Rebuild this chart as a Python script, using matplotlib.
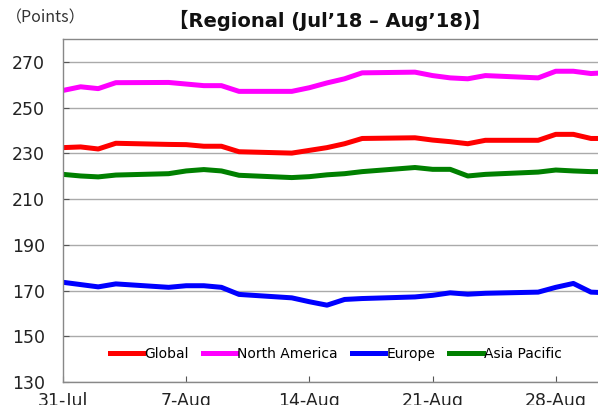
import matplotlib
matplotlib.use("Agg")
import matplotlib.pyplot as plt
import pandas as pd

dates = pd.to_datetime([
    "2018-07-31", "2018-08-01", "2018-08-02", "2018-08-03",
    "2018-08-06", "2018-08-07", "2018-08-08", "2018-08-09", "2018-08-10",
    "2018-08-13", "2018-08-14", "2018-08-15", "2018-08-16", "2018-08-17",
    "2018-08-20", "2018-08-21", "2018-08-22", "2018-08-23", "2018-08-24",
    "2018-08-27", "2018-08-28", "2018-08-29", "2018-08-30", "2018-08-31",
])

global_vals = [232.5, 232.8, 231.9, 234.4, 233.9, 233.8, 233.1, 233.1, 230.7, 230.1,
               231.3, 232.5, 234.2, 236.5, 236.8, 235.8, 235.1, 234.2, 235.7, 235.7,
               238.3, 238.3, 236.5, 236.5]
north_america = [257.5, 259.1, 258.3, 260.9, 261.0, 260.3, 259.6, 259.6, 257.1, 257.1,
                 258.7, 260.8, 262.6, 265.2, 265.5, 264.0, 263.0, 262.6, 264.0, 263.0,
                 265.9, 265.9, 264.9, 265.3]
europe = [173.6, 172.6, 171.6, 172.9, 171.4, 172.1, 172.1, 171.4, 168.3, 166.8,
          165.1, 163.6, 166.1, 166.5, 167.2, 167.9, 169.0, 168.4, 168.8, 169.3,
          171.4, 173.1, 169.3, 169.0]
asia_pacific = [220.8, 220.1, 219.7, 220.5, 221.1, 222.3, 222.9, 222.3, 220.4, 219.4,
                219.8, 220.6, 221.1, 222.0, 223.8, 223.0, 223.0, 220.1, 220.8, 221.8,
                222.7, 222.3, 222.0, 222.0]

series_names = ["Global", "North America", "Europe", "Asia Pacific"]
series_colors = ["#FF0000", "#FF00FF", "#0000FF", "#008000"]
series_values = [global_vals, north_america, europe, asia_pacific]

tick_dates = pd.to_datetime(["2018-07-31", "2018-08-07", "2018-08-14", "2018-08-21", "2018-08-28"])
tick_labels = ["31-Jul", "7-Aug", "14-Aug", "21-Aug", "28-Aug"]
y_ticks = [130, 150, 170, 190, 210, 230, 250, 270]

fig = plt.figure(figsize=(5.98, 4.05), dpi=100)
ax = fig.add_axes([0.1054, 0.0568, 0.8946, 0.8469])

for name, color, vals in zip(series_names, series_colors, series_values):
    ax.plot(dates, vals, color=color, lw=3.6, label=name, solid_joinstyle="round")

ax.set_ylim(130, 280)
ax.set_yticks(y_ticks)
ax.set_xlim(dates[0], dates[0] + pd.Timedelta(days=30.4))
ax.set_xticks(tick_dates)
ax.set_xticklabels(tick_labels)

ax.grid(axis="y", color="#AAAAAA", lw=1)
ax.set_axisbelow(True)
for s in ["left", "top", "bottom"]:
    ax.spines[s].set_color("#888888")
    ax.spines[s].set_linewidth(1)
ax.spines["right"].set_visible(False)
ax.tick_params(axis="both", direction="in", length=4, color="#555555",
               labelsize=12.5, labelcolor="#222222")
ax.tick_params(axis="y", pad=13)
ax.tick_params(axis="x", pad=7)

leg = ax.legend(loc="center", bbox_to_anchor=(0.51, 0.082), ncol=4, frameon=False,
                handlelength=2.4, handletextpad=0.1, columnspacing=1.0,
                prop={"size": 10})

fig.text(0.010, 0.955, "（Points）", fontsize=11.5, color="#333333",
         family=["Noto Sans CJK JP", "DejaVu Sans"], va="center", ha="left")
fig.text(0.552, 0.95, "【Regional (Jul’18 – Aug’18)】", fontsize=14, fontweight="bold",
         family=["DejaVu Sans", "Noto Sans CJK JP"], va="center", ha="center", color="#111111")

fig.savefig("out.png", dpi=100)
